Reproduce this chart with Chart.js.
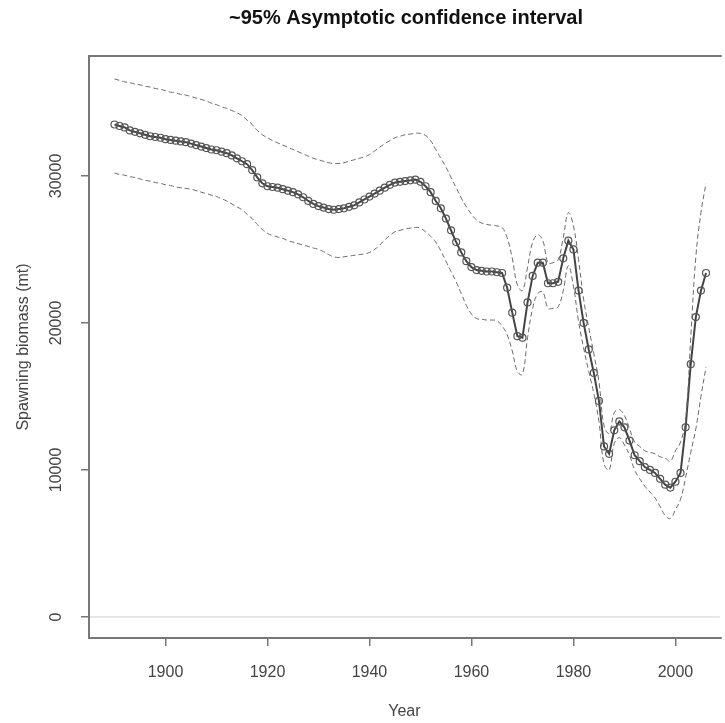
<!DOCTYPE html>
<html>
<head>
<meta charset="utf-8">
<script src="https://cdn.jsdelivr.net/npm/chart.js@4.4.1/dist/chart.umd.min.js"></script>
<style>
  html, body { margin: 0; padding: 0; background: #fff; }
  #wrap { width: 725px; height: 723px; }
</style>
</head>
<body>
<div id="wrap"><canvas id="chart" width="725" height="723"></canvas></div>
<script>
// years 1890..2006
const years = Array.from({ length: 117 }, (_, i) => 1890 + i);

// spawning biomass (mt), point estimate
const biomass = [
  33500, 33400, 33300, 33100, 33000, 32900, 32800, 32700, 32650, 32600,
  32500, 32450, 32400, 32350, 32300, 32200, 32100, 32000, 31900, 31800,
  31750, 31650, 31550, 31400, 31200, 31000, 30800, 30400, 29900, 29500,
  29300, 29250, 29200, 29100, 29000, 28900, 28750, 28550, 28300, 28100,
  27950, 27850, 27750, 27700, 27750, 27800, 27900, 28000, 28200, 28400,
  28600, 28800, 29000, 29200, 29400, 29550, 29600, 29650, 29700, 29750,
  29600, 29300, 28900, 28300, 27800, 27100, 26300, 25500, 24800, 24200,
  23800, 23600, 23550, 23500, 23500, 23450, 23400, 22400, 20700, 19100,
  19000, 21400, 23200, 24100, 24100, 22700, 22700, 22800, 24400, 25600,
  25000, 22200, 20000, 18200, 16600, 14700, 11600, 11100, 12700, 13300,
  12900, 12000, 11000, 10600, 10200, 10000, 9800, 9400, 9000, 8800,
  9200, 9800, 12900, 17200, 20400, 22200, 23400
];

// upper ~95% bound
const upper = [
  36600, 36500, 36400, 36350, 36250, 36200, 36100, 36050, 35950, 35900,
  35800, 35700, 35650, 35550, 35500, 35400, 35300, 35200, 35100, 34950,
  34850, 34700, 34600, 34450, 34300, 34100, 33800, 33500, 33100, 32800,
  32600, 32400, 32250, 32100, 31950, 31800, 31650, 31500, 31350, 31200,
  31100, 31000, 30900, 30850, 30850, 30900, 31000, 31100, 31200, 31300,
  31450, 31700, 31950, 32200, 32400, 32600, 32700, 32800, 32850, 32900,
  32900, 32750, 32400, 31800, 31200, 30600, 29900, 29200, 28500, 27900,
  27400, 27000, 26800, 26700, 26650, 26600, 26500, 25800, 24400, 22600,
  22200, 23800, 25500, 26000, 25600, 24100, 24100, 24300, 25800, 27500,
  26600, 24300, 21600, 19700, 17900, 16000, 13000, 12500, 13900, 14100,
  13700, 12800, 11900, 11600, 11300, 11200, 11100, 10900, 10800, 10600,
  11300, 11900, 13400, 19000, 24500, 27500, 29500
];

// lower ~95% bound
const lower = [
  30200, 30100, 30050, 29950, 29900, 29800, 29700, 29650, 29550, 29500,
  29400, 29350, 29250, 29200, 29150, 29100, 29000, 28900, 28800, 28700,
  28600, 28450, 28300, 28100, 27900, 27700, 27400, 27100, 26700, 26350,
  26100, 25950, 25850, 25750, 25600, 25500, 25400, 25300, 25200, 25100,
  25000, 24850, 24650, 24500, 24450, 24500, 24550, 24600, 24650, 24700,
  24800, 25000, 25300, 25650, 25950, 26200, 26300, 26400, 26450, 26500,
  26450, 26200, 25900, 25500, 24900, 24200, 23500, 22800, 22000, 21200,
  20600, 20300, 20250, 20200, 20200, 20150, 19800, 19200, 18100, 16700,
  16500, 19000, 21000, 22000, 22100, 21000, 21000, 21100, 22200, 23900,
  22500, 20100, 18300, 16700, 15200, 13300, 10400, 10000, 11800, 12200,
  11700, 11000, 10000, 9400, 8900, 8500, 8100, 7500, 6900, 6700,
  7300, 8000, 9500, 11200, 12800, 15000, 17000
];

const xTicks = [1900, 1920, 1940, 1960, 1980, 2000];
const yTicks = [0, 10000, 20000, 30000];

const toXY = arr => arr.map((v, i) => ({ x: years[i], y: v }));

const FONT = '"Liberation Sans", Arial, sans-serif';
const AXIS = '#777';
const TITLE = '~95% Asymptotic confidence interval';

// R-like frame, zero line, title and rotated y tick labels
const rFrame = {
  id: 'rFrame',
  beforeDatasetsDraw(chart) {
    const { ctx, chartArea: a, scales: { y } } = chart;
    const y0 = y.getPixelForValue(0);
    ctx.save();
    ctx.strokeStyle = '#cfcfcf';
    ctx.lineWidth = 1;
    ctx.beginPath();
    ctx.moveTo(a.left, y0);
    ctx.lineTo(a.right, y0);
    ctx.stroke();
    ctx.restore();
  },
  afterDraw(chart) {
    const { ctx, chartArea: a, scales: { y } } = chart;
    ctx.save();
    ctx.strokeStyle = AXIS;
    ctx.lineWidth = 2;
    ctx.beginPath();
    ctx.moveTo(a.right + 2, a.top);
    ctx.lineTo(a.left, a.top);
    ctx.lineTo(a.left, a.bottom);
    ctx.lineTo(a.right + 2, a.bottom);
    ctx.stroke();

    ctx.fillStyle = '#111';
    ctx.font = 'bold 20px ' + FONT;
    ctx.textAlign = 'center';
    ctx.textBaseline = 'middle';
    ctx.fillText(TITLE, 406, 18);

    ctx.fillStyle = '#444';
    ctx.font = '16px ' + FONT;
    yTicks.forEach(v => {
      const py = y.getPixelForValue(v);
      ctx.save();
      ctx.translate(57, py);
      ctx.rotate(-Math.PI / 2);
      ctx.fillText(String(v), 0, 0);
      ctx.restore();
    });
    ctx.restore();
  }
};

new Chart(document.getElementById('chart'), {
  type: 'line',
  data: {
    datasets: [
      {
        label: 'upper',
        data: toXY(upper),
        borderColor: '#6a6a6a',
        borderWidth: 1,
        borderDash: [5, 3],
        pointRadius: 0,
        tension: 0.4,
        fill: false
      },
      {
        label: 'lower',
        data: toXY(lower),
        borderColor: '#6a6a6a',
        borderWidth: 1,
        borderDash: [5, 3],
        pointRadius: 0,
        tension: 0.4,
        fill: false
      },
      {
        label: 'Spawning biomass',
        data: toXY(biomass),
        borderColor: '#444',
        borderWidth: 2,
        pointRadius: 3.5,
        pointBorderWidth: 1.2,
        pointBorderColor: '#555',
        pointBackgroundColor: 'rgba(255,255,255,0)',
        tension: 0,
        fill: false
      }
    ]
  },
  options: {
    responsive: false,
    animation: false,
    layout: { padding: { top: 56 } },
    plugins: {
      legend: { display: false },
      tooltip: { enabled: false },
      title: { display: false }
    },
    scales: {
      x: {
        type: 'linear',
        min: 1885,
        max: 2008.7,
        afterBuildTicks: s => { s.ticks = xTicks.map(v => ({ value: v })); },
        afterFit: s => { s.height = 85; },
        grid: { display: true, drawOnChartArea: false, drawTicks: true, tickLength: 8, color: AXIS, lineWidth: 1.5 },
        border: { display: false },
        ticks: {
          color: '#444',
          padding: 17,
          font: { family: FONT, size: 16 },
          maxRotation: 0,
          callback: v => String(v)
        },
        title: {
          display: true,
          text: 'Year',
          color: '#444',
          font: { family: FONT, size: 16 },
          padding: { top: 0, bottom: 2 }
        }
      },
      y: {
        type: 'linear',
        min: -1430,
        max: 38160,
        afterBuildTicks: s => { s.ticks = yTicks.map(v => ({ value: v })); },
        afterFit: s => { s.width = 89; },
        grid: { display: true, drawOnChartArea: false, drawTicks: true, tickLength: 8, color: AXIS, lineWidth: 1.5 },
        border: { display: false },
        ticks: { display: false },
        title: {
          display: true,
          text: 'Spawning biomass (mt)',
          color: '#444',
          font: { family: FONT, size: 16 },
          padding: { top: 14, bottom: 0 }
        }
      }
    }
  },
  plugins: [rFrame]
});
</script>
</body>
</html>
